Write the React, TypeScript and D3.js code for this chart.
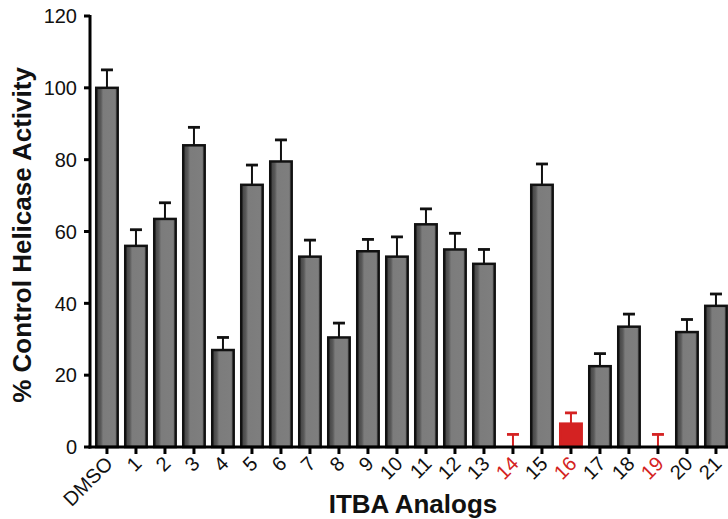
import React from "react";
import * as d3 from "d3";

const categories = ["DMSO","1","2","3","4","5","6","7","8","9","10","11","12","13","14","15","16","17","18","19","20","21"];
const values = [100,56,63.5,84,27,73,79.5,53,30.5,54.5,53,62,55,51,0,73,6.5,22.5,33.5,0,32,39.3];
const errors = [5,4.5,4.5,5,3.5,5.5,6,4.6,4,3.3,5.5,4.3,4.5,4,3.5,5.8,3,3.5,3.5,3.5,3.5,3.3];
const highlighted = ["14","16","19"];
const yTicks = [0,20,40,60,80,100,120];

const W = 728, H = 519;
const RED = "#d42222";

export default function App() {
  const y = d3.scaleLinear().domain([0,120]).range([447,16]);
  const x = d3.scaleBand<string>().domain(categories).range([90, 90 + 29 * (22 - 0.26 + 0.43)]).paddingInner(0.26).paddingOuter(0.215);
  const bw = x.bandwidth();
  const font = "'Liberation Sans', Arial, Helvetica, sans-serif";
  return (
    <svg width={W} height={H} style={{position:"absolute",left:0,top:0,display:"block",background:"#fff"}} fontFamily={font}>
      <defs>
        <linearGradient id="barg" x1="0" x2="1" y1="0" y2="0">
          <stop offset="0%" stopColor="#3e3e3e"/>
          <stop offset="22%" stopColor="#5a5a5a"/>
          <stop offset="32%" stopColor="#7c7c7c"/>
          <stop offset="85%" stopColor="#7e7e7e"/>
          <stop offset="100%" stopColor="#606060"/>
        </linearGradient>
      </defs>
      {categories.map((c, i) => {
        const red = highlighted.includes(c);
        const cx = (x(c) as number) + bw / 2;
        const v = values[i];
        const top = y(v);
        const et = y(v + errors[i]);
        const col = red ? RED : "#111";
        return (
          <g key={c}>
            {v > 0 && (
              <rect x={x(c)} y={top} width={bw} height={y(0) - top}
                fill={red ? RED : "url(#barg)"} stroke={red ? RED : "#111"} strokeWidth={2.5} />
            )}
            <line x1={cx} x2={cx} y1={top} y2={et} stroke={col} strokeWidth={2} />
            <line x1={cx - 6} x2={cx + 6} y1={et} y2={et} stroke={col} strokeWidth={2.8} />
          </g>
        );
      })}
      <line x1={90} x2={90} y1={y(120) - 1} y2={y(0) + 1.5} stroke="#000" strokeWidth={3} />
      {yTicks.map(t => (
        <g key={t}>
          <line x1={84} x2={90} y1={y(t)} y2={y(t)} stroke="#000" strokeWidth={3} />
          <text x={77} y={y(t)} dy="0.36em" textAnchor="end" fontSize={20} fill="#111">{t}</text>
        </g>
      ))}
      <line x1={88.5} x2={W} y1={y(0)} y2={y(0)} stroke="#000" strokeWidth={3} />
      {categories.map(c => {
        const cx = (x(c) as number) + bw / 2;
        const red = highlighted.includes(c);
        return (
          <g key={"t" + c}>
            <line x1={cx} x2={cx} y1={y(0)} y2={y(0) + 7} stroke="#000" strokeWidth={3} />
            <text transform={`translate(${cx + 7},${y(0) + 18}) rotate(-45)`} textAnchor="end" fontSize={20} fill={red ? RED : "#111"}>{c}</text>
          </g>
        );
      })}
      <text x={413} y={513} textAnchor="middle" fontSize={26} fontWeight="bold" fill="#111">ITBA Analogs</text>
      <text transform={`translate(31,235) rotate(-90)`} textAnchor="middle" fontSize={26} fontWeight="bold" fill="#111">% Control Helicase Activity</text>
    </svg>
  );
}
